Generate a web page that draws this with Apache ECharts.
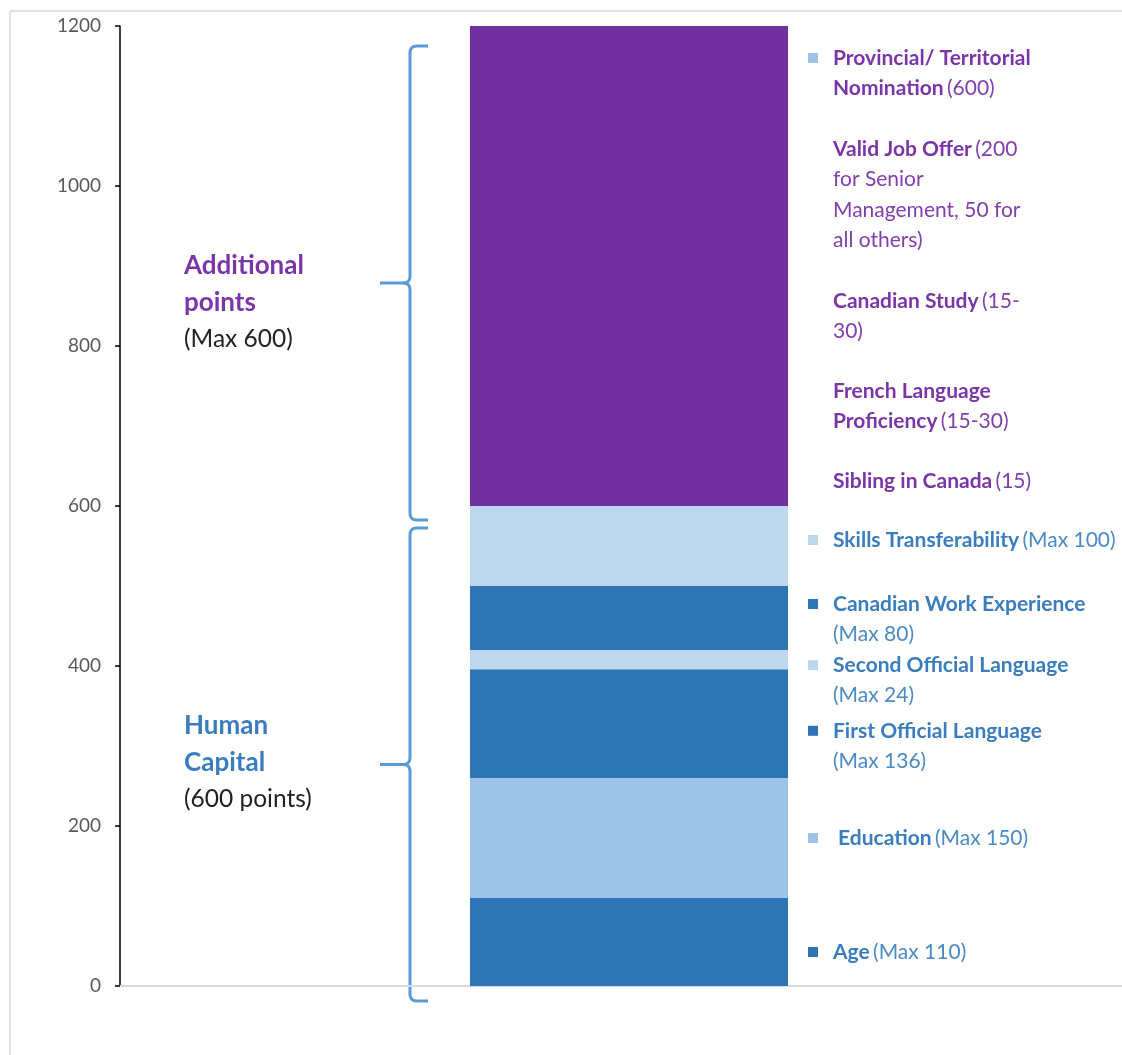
<!DOCTYPE html>
<html>
<head>
<meta charset="utf-8">
<script src="https://cdn.jsdelivr.net/npm/echarts@6/dist/echarts.min.js"></script>
<style>
  html, body { margin: 0; padding: 0; background: #fff; }
  #main { width: 1122px; height: 1055px; }
</style>
</head>
<body>
<div id="main"></div>
<script>
// ---- data ----
const categories = ['Score'];
const segmentNames = ['Age', 'Education', 'First Official Language', 'Second Official Language',
  'Canadian Work Experience', 'Skills Transferability', 'Additional points'];
const segmentValues = [110, 150, 136, 24, 80, 100, 600];
const yTicks = [0, 200, 400, 600, 800, 1000, 1200];

// right-side annotation texts and the score level they sit at
const noteLevels = [1160, 1046, 856, 744, 631, 557.5, 477.5, 401, 319, 185, 42.5];
const noteTexts = [
  '{pb|Provincial/ Territorial}\n{pb|Nomination} {pr|(600)}',
  '{pb|Valid Job Offer} {pr|(200}\n{pr|for Senior}\n{pr|Management, 50 for}\n{pr|all others)}',
  '{pb|Canadian Study} {pr|(15-}\n{pr|30)}',
  '{pb|French Language}\n{pb|Proficiency} {pr|(15-30)}',
  '{pb|Sibling in Canada} {pr|(15)}',
  '{bb|Skills Transferability} {br|(Max 100)}',
  '{bb|Canadian Work Experience}\n{br|(Max 80)}',
  '{bb|Second Official Language}\n{br|(Max 24)}',
  '{bb|First Official Language}\n{br|(Max 136)}',
  '{bb| Education} {br|(Max 150)}',
  '{bb|Age} {br|(Max 110)}'
];
const noteMarkers = ['light', null, null, null, null, 'pale', 'dark', 'pale', 'dark', 'light', 'dark'];

// group braces
const groups = [
  { from: 600, to: 1200, title: 'Additional\npoints', sub: '(Max 600)', kind: 'purple' },
  { from: 0, to: 600, title: 'Human\nCapital', sub: '(600 points)', kind: 'blue' }
];

// ---- styles / layout ----
const PURPLE = '#7030A0';
const DARK = '#2E75B6';
const LIGHT = '#9DC3E6';
const PALE = '#BDD7EE';
const segColors = [DARK, LIGHT, DARK, PALE, DARK, PALE, PURPLE];
const markerColors = { dark: DARK, light: LIGHT, pale: PALE };
const FONT = 'Lato, "Open Sans", sans-serif';
const groupLayout = [
  { topPad: 20, botPad: 14, firstLineOffset: -17 },
  { topPad: 22, botPad: 15, firstLineOffset: -38.5 }
];

const chart = echarts.init(document.getElementById('main'), null, { renderer: 'canvas' });

const series = segmentNames.map((name, i) => ({
  name: name,
  type: 'bar',
  stack: 'total',
  barWidth: 318,
  data: [segmentValues[i]],
  itemStyle: { color: segColors[i] },
  emphasis: { disabled: true },
  silent: true
}));

chart.setOption({
  animation: false,
  backgroundColor: '#fff',
  grid: { left: 120, top: 26, bottom: 69, width: 1018, containLabel: false, outerBoundsMode: 'none' },
  xAxis: {
    type: 'category',
    data: categories,
    axisLine: { show: true, lineStyle: { color: '#D9D9D9', width: 2 } },
    axisTick: { show: false },
    axisLabel: { show: false },
    splitLine: { show: false }
  },
  yAxis: {
    type: 'value',
    min: yTicks[0],
    max: yTicks[yTicks.length - 1],
    interval: 200,
    axisLine: { show: true, lineStyle: { color: '#000', width: 1.5 } },
    axisTick: { show: true, length: 5, lineStyle: { color: '#000', width: 1.5 } },
    axisLabel: { color: '#595959', fontSize: 19, fontFamily: FONT, margin: 19, formatter: v => String(v) },
    splitLine: { show: false }
  },
  series: series
});

function py(v) { return chart.convertToPixel({ yAxisIndex: 0 }, v); }

const graphics = [];
// outer frame lines
graphics.push({ type: 'line', shape: { x1: 10, y1: 11, x2: 1122, y2: 11 }, style: { stroke: '#D9D9D9', lineWidth: 1.5 }, silent: true });
graphics.push({ type: 'line', shape: { x1: 10, y1: 11, x2: 10, y2: 1055 }, style: { stroke: '#D9D9D9', lineWidth: 1.5 }, silent: true });

// right notes
const LH = 30.5;
const NFS = 21;
noteTexts.forEach((t, i) => {
  const yc = py(noteLevels[i]);
  graphics.push({
    type: 'text',
    x: 833,
    y: yc - LH / 2,
    silent: true,
    style: {
      text: t,
      verticalAlign: 'top',
      align: 'left',
      rich: {
        pb: { fontFamily: FONT, fontSize: NFS, fontWeight: 'bold', fill: '#7A35A8', lineHeight: LH },
        pr: { fontFamily: FONT, fontSize: NFS, fontWeight: 'normal', fill: '#8040B0', lineHeight: LH },
        bb: { fontFamily: FONT, fontSize: NFS, fontWeight: 'bold', fill: '#3A7DBE', lineHeight: LH },
        br: { fontFamily: FONT, fontSize: NFS, fontWeight: 'normal', fill: '#4A8AC6', lineHeight: LH }
      }
    }
  });
  if (noteMarkers[i]) {
    graphics.push({
      type: 'rect', silent: true,
      shape: { x: 808, y: yc - 5, width: 10, height: 10 },
      style: { fill: markerColors[noteMarkers[i]] }
    });
  }
});

// quadratic curve sampler for brace corners
function quad(p0, p1, p2, n) {
  const pts = [];
  for (let k = 0; k <= n; k++) {
    const t = k / n, u = 1 - t;
    pts.push([u * u * p0[0] + 2 * u * t * p1[0] + t * t * p2[0], u * u * p0[1] + 2 * u * t * p1[1] + t * t * p2[1]]);
  }
  return pts;
}

// braces and group labels
const BX = 410;
const R = 7;
const GLH = 36.5;
groups.forEach((g, gi) => {
  const L = groupLayout[gi];
  const top = py(g.to) + L.topPad;
  const bot = py(g.from) + L.botPad;
  const mid = (top + bot) / 2;
  const upper = [[BX + 18, top]]
    .concat(quad([BX + R, top], [BX, top], [BX, top + R], 6))
    .concat(quad([BX, mid - R], [BX, mid], [BX - R, mid], 6))
    .concat([[BX - 30, mid]]);
  const lower = [[BX - R, mid]]
    .concat(quad([BX - R, mid], [BX, mid], [BX, mid + R], 6))
    .concat(quad([BX, bot - R], [BX, bot], [BX + R, bot], 6))
    .concat([[BX + 18, bot]]);
  [upper, lower].forEach(pts => {
    graphics.push({
      type: 'polyline', silent: true,
      shape: { points: pts },
      style: { stroke: '#5B9BD5', lineWidth: 3, fill: null, lineJoin: 'round', lineCap: 'butt' }
    });
  });
  const titleColor = g.kind === 'purple' ? '#7A35A8' : '#3A7DBE';
  graphics.push({
    type: 'text', silent: true,
    x: 184,
    y: mid + L.firstLineOffset - GLH / 2,
    style: {
      text: '{t|' + g.title.split('\n').join('}\n{t|') + '}\n{s|' + g.sub + '}',
      verticalAlign: 'top',
      align: 'left',
      rich: {
        t: { fontFamily: FONT, fontSize: 26, fontWeight: 'bold', fill: titleColor, lineHeight: GLH },
        s: { fontFamily: FONT, fontSize: 24.5, fontWeight: 'normal', fill: '#222', lineHeight: GLH }
      }
    }
  });
});

chart.setOption({ graphic: graphics });
</script>
</body>
</html>
